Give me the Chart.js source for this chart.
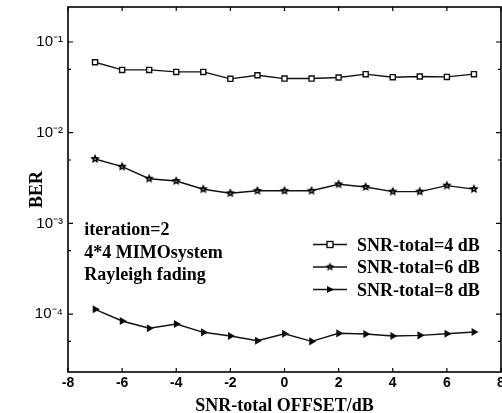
<!DOCTYPE html>
<html>
<head>
<meta charset="utf-8">
<script src="https://cdn.jsdelivr.net/npm/chart.js@4/dist/chart.umd.min.js"></script>
<style>
html,body{margin:0;padding:0;background:#fff;}
#c{display:block;}
</style>
</head>
<body>
<canvas id="c" width="502" height="413"></canvas>
<script>
// ---- data ----
const offsets = [-7,-6,-5,-4,-3,-2,-1,0,1,2,3,4,5,6,7];
const ber4dB = [0.0598,0.0492,0.0492,0.0468,0.0468,0.0392,0.0430,0.0395,0.0395,0.0406,0.0442,0.0409,0.0416,0.0412,0.0442];
const ber6dB = [5.13e-3,4.22e-3,3.11e-3,2.93e-3,2.38e-3,2.15e-3,2.29e-3,2.29e-3,2.29e-3,2.70e-3,2.52e-3,2.24e-3,2.24e-3,2.61e-3,2.39e-3];
const ber8dB = [1.13e-4,8.4e-5,6.98e-5,7.78e-5,6.30e-5,5.74e-5,5.09e-5,6.08e-5,5.01e-5,6.14e-5,6.03e-5,5.74e-5,5.83e-5,6.08e-5,6.35e-5];
const seriesLabels = ['SNR-total=4 dB','SNR-total=6 dB','SNR-total=8 dB'];
const xTickValues = [-8,-6,-4,-2,0,2,4,6,8];
const yTickValues = [1e-1,1e-2,1e-3,1e-4];
const yTickLabels = ['10\u207B\u00B9','10\u207B\u00B2','10\u207B\u00B3','10\u207B\u2074'];
const yMinorValues = [5e-2,5e-3,5e-4,5e-5];
const notes = ['iteration=2','4*4 MIMOsystem','Rayleigh fading'];
const xTitle = 'SNR-total OFFSET/dB';
const yTitle = 'BER';

// ---- marker images ----
function makeStar(r){
  const s = Math.ceil(r*2+4);
  const cv = document.createElement('canvas'); cv.width = s; cv.height = s;
  const g = cv.getContext('2d');
  const cx = s/2, cy = s/2;
  g.beginPath();
  for(let i=0;i<10;i++){
    const rr = i%2===0 ? r : r*0.47;
    const a = -Math.PI/2 + i*Math.PI/5;
    const px = cx + rr*Math.cos(a), py = cy + rr*Math.sin(a);
    if(i===0) g.moveTo(px,py); else g.lineTo(px,py);
  }
  g.closePath();
  g.fillStyle = '#000'; g.fill();
  g.beginPath(); g.arc(cx, cy+0.3, r*0.14, 0, Math.PI*2); g.fillStyle='#fff'; g.fill();
  return cv;
}
const starImg = makeStar(5);
const starImgSmall = makeStar(4.5);

const serifBold = 'bold 18px "Liberation Serif", "Times New Roman", serif';

const markerDefs = [
  {style:'rect', radius:3.6, fill:'#fff', rot:0},
  {style:starImg, radius:5, fill:'#000', rot:0},
  {style:'triangle', radius:3.3, fill:'#000', rot:90}
];

const dataArrays = [ber4dB, ber6dB, ber8dB];
const datasets = dataArrays.map((arr,i)=>({
  label: seriesLabels[i],
  data: offsets.map((x,j)=>({x:x, y:arr[j]})),
  borderColor:'#111',
  borderWidth:1.4,
  backgroundColor: markerDefs[i].fill,
  pointStyle: markerDefs[i].style,
  pointRadius: markerDefs[i].radius,
  pointRotation: markerDefs[i].rot,
  pointBorderColor:'#111',
  pointBackgroundColor: markerDefs[i].fill,
  pointBorderWidth:1.4,
  fill:false,
  tension:0
}));

const decorPlugin = {
  id:'decor',
  afterDraw(chart){
    const ctx = chart.ctx;
    const a = chart.chartArea;
    const xs = chart.scales.x, ys = chart.scales.y;
    ctx.save();
    ctx.strokeStyle = '#000';
    ctx.lineWidth = 1.6;
    ctx.strokeRect(a.left, a.top, a.right-a.left, a.bottom-a.top);
    // inward ticks
    ctx.lineWidth = 1.2;
    ctx.beginPath();
    xTickValues.forEach(v=>{
      const px = xs.getPixelForValue(v);
      ctx.moveTo(px, a.bottom); ctx.lineTo(px, a.bottom-4);
      ctx.moveTo(px, a.top); ctx.lineTo(px, a.top+4);
    });
    yTickValues.forEach(v=>{
      const py = ys.getPixelForValue(v);
      ctx.moveTo(a.left, py); ctx.lineTo(a.left+5, py);
      ctx.moveTo(a.right, py); ctx.lineTo(a.right-5, py);
    });
    yMinorValues.forEach(v=>{
      const py = ys.getPixelForValue(v);
      if(py>a.top && py<a.bottom){
        ctx.moveTo(a.left, py); ctx.lineTo(a.left+3, py);
        ctx.moveTo(a.right, py); ctx.lineTo(a.right-3, py);
      }
    });
    ctx.stroke();
    // notes
    ctx.fillStyle = '#000';
    ctx.font = serifBold;
    ctx.textAlign = 'left';
    ctx.textBaseline = 'alphabetic';
    const nx = xs.getPixelForValue(-7.4);
    const ny0 = 235, dy = 22.5;
    notes.forEach((t,i)=>ctx.fillText(t, nx, ny0 + i*dy));
    // legend
    const lx0 = 313, lx1 = 347, tx = 357;
    const ly0 = 244.5, ldy = 22.5;
    chart.data.datasets.forEach((ds,i)=>{
      const y = ly0 + i*ldy;
      ctx.strokeStyle = '#111'; ctx.lineWidth = 1.4;
      ctx.beginPath(); ctx.moveTo(lx0,y); ctx.lineTo(lx1,y); ctx.stroke();
      const mx = (lx0+lx1)/2;
      if(i===0){
        ctx.fillStyle='#fff'; ctx.fillRect(mx-3,y-3,6,6);
        ctx.strokeRect(mx-3,y-3,6,6);
      } else if(i===1){
        ctx.drawImage(starImgSmall, mx-starImgSmall.width/2, y-starImgSmall.height/2);
      } else {
        ctx.fillStyle='#000';
        ctx.beginPath(); ctx.moveTo(mx+4,y); ctx.lineTo(mx-3,y-3.5); ctx.lineTo(mx-3,y+3.5); ctx.closePath(); ctx.fill();
      }
      ctx.fillStyle='#000';
      ctx.font = serifBold;
      ctx.fillText(ds.label, tx, y + 6);
    });
    ctx.restore();
  }
};

new Chart(document.getElementById('c'), {
  type:'line',
  data:{datasets},
  options:{
    responsive:false,
    animation:false,
    devicePixelRatio:1,
    layout:{autoPadding:false, padding:{top:7,right:1,left:0,bottom:0}},
    plugins:{legend:{display:false}, tooltip:{enabled:false}},
    scales:{
      x:{
        type:'linear', min:-8, max:8,
        afterBuildTicks(s){ s.ticks = xTickValues.map(v=>({value:v})); },
        afterFit(s){ s.height = 41; s.paddingLeft = 0; s.paddingRight = 0; },
        grid:{display:false, drawTicks:false},
        border:{display:false},
        ticks:{color:'#000', padding:3, maxRotation:0, autoSkip:false,
          font:{family:'"Liberation Sans", Arial, sans-serif', size:14, weight:'bold', lineHeight:1.1}},
        title:{display:true, text:xTitle, color:'#000', padding:{top:0,bottom:-4},
          font:{family:'"Liberation Serif", "Times New Roman", serif', size:18, weight:'bold'}}
      },
      y:{
        type:'logarithmic', min:2.30e-5, max:0.243,
        afterBuildTicks(s){ s.ticks = yTickValues.map(v=>({value:v})); },
        afterFit(s){ s.width = 68; s.paddingTop = 0; s.paddingBottom = 0; },
        grid:{display:false, drawTicks:false},
        border:{display:false},
        ticks:{color:'#000', padding:5, autoSkip:false,
          callback:(v)=>{ const i = yTickValues.findIndex(t=>Math.abs(t-v)/t<1e-6); return i>=0 ? yTickLabels[i] : ''; },
          font:{family:'"Liberation Sans", Arial, sans-serif', size:15}},
        title:{display:true, text:yTitle, color:'#000', padding:{top:27,bottom:0},
          font:{family:'"Liberation Serif", "Times New Roman", serif', size:18, weight:'bold'}}
      }
    }
  },
  plugins:[decorPlugin]
});
</script>
</body>
</html>
